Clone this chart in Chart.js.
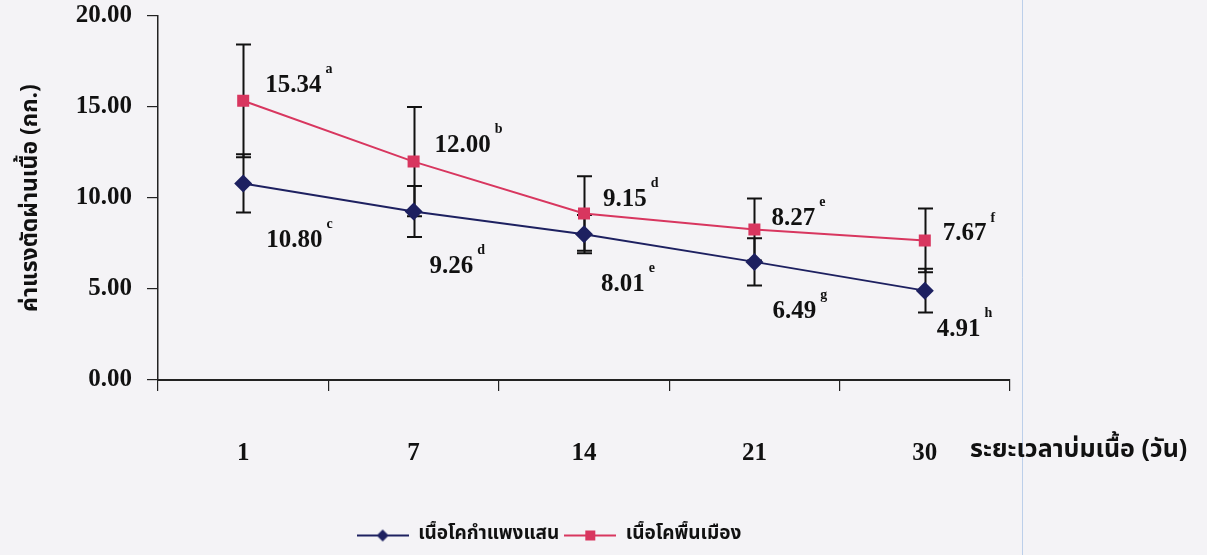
<!DOCTYPE html>
<html>
<head>
<meta charset="utf-8">
<script src="https://cdn.jsdelivr.net/npm/chart.js@4/dist/chart.umd.min.js"></script>
<style>
  html, body { margin: 0; padding: 0; background: #f4f3f6; }
  #wrap { width: 1207px; height: 555px; position: relative; }
</style>
</head>
<body>
<div id="wrap"><canvas id="c" width="1207" height="555"></canvas></div>
<script>
// Ageing days
const days = ['1', '7', '14', '21', '30'];

// Shear force (kg), mean values
const kamphaengsaen = [10.80, 9.26, 8.01, 6.49, 4.91];
const native = [15.34, 12.00, 9.15, 8.27, 7.67];

// Standard deviations for the error bars
const kamphaengsaenSD = [1.6, 1.4, 1.05, 1.3, 1.2];
const nativeSD = [3.1, 3.0, 2.05, 1.7, 1.75];

// Significance letters
const kamphaengsaenLetters = ['c', 'd', 'e', 'g', 'h'];
const nativeLetters = ['a', 'b', 'd', 'e', 'f'];

// Y axis tick values
const yTicks = [0, 5, 10, 15, 20];

const NAVY = '#1d2060';
const RED = '#d8365f';
const NUM_FONT = '"Liberation Serif", "Times New Roman", serif';
const THAI_FONT = '"Noto Sans Thai", "Noto Serif Thai", "Loma", "Garuda", "Norasi", "Noto Sans", sans-serif';

// legend swatch: short line with the marker in the middle
function swatch(color, style) {
  const cv = document.createElement('canvas');
  cv.width = 52; cv.height = 18;
  const g = cv.getContext('2d');
  g.strokeStyle = color; g.lineWidth = 2;
  g.beginPath(); g.moveTo(0, 9); g.lineTo(52, 9); g.stroke();
  g.fillStyle = color;
  g.beginPath();
  if (style === 'diamond') {
    g.moveTo(26, 3); g.lineTo(32, 9); g.lineTo(26, 15); g.lineTo(20, 9); g.closePath();
  } else {
    g.rect(21, 4, 10, 10);
  }
  g.fill();
  return cv;
}

const background = {
  id: 'background',
  beforeDraw(chart) {
    const ctx = chart.ctx;
    ctx.save();
    ctx.fillStyle = '#f4f3f6';
    ctx.fillRect(0, 0, chart.width, chart.height);
    // faint fold line of the printed page
    ctx.strokeStyle = 'rgba(170,195,230,0.75)';
    ctx.lineWidth = 1;
    ctx.beginPath(); ctx.moveTo(1022.5, 0); ctx.lineTo(1022.5, chart.height); ctx.stroke();
    ctx.restore();
  }
};

// vertical error bars with caps, drawn under the markers
const errorBars = {
  id: 'errorBars',
  beforeDatasetsDraw(chart, args, opts) {
    const ctx = chart.ctx;
    const ys = chart.scales.y;
    ctx.save();
    ctx.strokeStyle = '#111';
    ctx.lineWidth = 2;
    chart.data.datasets.forEach((ds, di) => {
      const meta = chart.getDatasetMeta(di);
      const sd = opts.sd[di];
      meta.data.forEach((pt, i) => {
        const v = ds.data[i];
        const top = ys.getPixelForValue(v + sd[i]);
        const bot = ys.getPixelForValue(v - sd[i]);
        const x = Math.round(pt.x) + 0.5;
        ctx.beginPath();
        ctx.moveTo(x, top); ctx.lineTo(x, bot);
        ctx.moveTo(x - 7.5, top); ctx.lineTo(x + 7.5, top);
        ctx.moveTo(x - 7.5, bot); ctx.lineTo(x + 7.5, bot);
        ctx.stroke();
      });
    });
    ctx.restore();
  }
};

// value labels with a raised significance letter
const valueLabels = {
  id: 'valueLabels',
  afterDatasetsDraw(chart, args, opts) {
    const ctx = chart.ctx;
    ctx.save();
    ctx.fillStyle = '#111';
    ctx.textBaseline = 'middle';
    ctx.textAlign = 'left';
    chart.data.datasets.forEach((ds, di) => {
      const meta = chart.getDatasetMeta(di);
      const letters = opts.letters[di];
      const nudge = opts.nudge[di];
      meta.data.forEach((pt, i) => {
        const txt = ds.data[i].toFixed(2);
        const x = pt.x + nudge[i][0];
        const y = pt.y + nudge[i][1];
        ctx.font = 'bold 25px ' + NUM_FONT;
        ctx.fillText(txt, x, y);
        const w = ctx.measureText(txt).width;
        ctx.font = 'bold 14px ' + NUM_FONT;
        ctx.fillText(letters[i], x + w + 4, y - 16);
      });
    });
    ctx.restore();
  }
};

// x axis title placed on the tick-label row, right of the last tick
const xTitle = {
  id: 'xTitle',
  afterDraw(chart, args, opts) {
    const ctx = chart.ctx;
    ctx.save();
    ctx.fillStyle = '#111';
    ctx.font = 'bold 25px ' + THAI_FONT;
    ctx.textAlign = 'left';
    ctx.textBaseline = 'middle';
    ctx.fillText(opts.text, chart.chartArea.right - 40, opts.y);
    ctx.restore();
  }
};

new Chart(document.getElementById('c'), {
  type: 'line',
  data: {
    labels: days,
    datasets: [
      {
        label: 'เนื้อโคกำแพงแสน',
        data: kamphaengsaen,
        borderColor: NAVY,
        backgroundColor: NAVY,
        borderWidth: 2,
        pointStyle: 'rectRot',
        pointRadius: 9,
        pointBorderWidth: 0,
        tension: 0
      },
      {
        label: 'เนื้อโคพื้นเมือง',
        data: native,
        borderColor: RED,
        backgroundColor: RED,
        borderWidth: 2,
        pointStyle: 'rect',
        pointRadius: 8.5,
        pointBorderWidth: 0,
        tension: 0
      }
    ]
  },
  options: {
    responsive: false,
    animation: false,
    devicePixelRatio: 1,
    layout: { padding: { left: 0, top: 16, right: 109, bottom: 0 } },
    scales: {
      x: {
        type: 'category',
        offset: true,
        grid: {
          display: true,
          offset: true,
          drawOnChartArea: false,
          drawTicks: true,
          tickLength: 11,
          color: '#222',
          lineWidth: 1.2
        },
        border: { display: true, color: '#222', width: 2 },
        ticks: {
          color: '#111',
          padding: 48,
          font: { family: NUM_FONT, size: 25, weight: 'bold' }
        },
        afterFit(scale) {
          scale.height = 141;
          scale.paddingLeft = 0;
          scale.paddingRight = 0;
        }
      },
      y: {
        min: 0,
        max: 20,
        afterBuildTicks(scale) { scale.ticks = yTicks.map(v => ({ value: v })); },
        grid: {
          display: true,
          drawOnChartArea: false,
          drawTicks: true,
          tickLength: 11,
          color: '#222',
          lineWidth: 1.2
        },
        border: { display: true, color: '#222', width: 1.5 },
        ticks: {
          color: '#111',
          padding: 15,
          font: { family: NUM_FONT, size: 25, weight: 'bold' },
          callback: v => Number(v).toFixed(2)
        },
        title: {
          display: true,
          text: 'ค่าแรงตัดผ่านเนื้อ (กก.)',
          color: '#111',
          padding: { top: 19, bottom: 0 },
          font: { family: THAI_FONT, size: 23, weight: 'bold' }
        },
        afterFit(scale) {
          scale.width = 158;
          scale.paddingTop = 0;
          scale.paddingBottom = 0;
        }
      },
      // empty right-hand strip that leaves room for the x axis title
      gutter: {
        type: 'linear',
        position: 'right',
        display: true,
        grid: { display: false, drawTicks: false },
        border: { display: false },
        ticks: { display: false },
        afterFit(scale) {
          scale.width = 88;
          scale.paddingTop = 0;
          scale.paddingBottom = 0;
        }
      }
    },
    plugins: {
      legend: {
        position: 'bottom',
        labels: {
          color: '#111',
          usePointStyle: true,
          pointStyleWidth: 52,
          padding: 5,
          font: { family: THAI_FONT, size: 19, weight: 'bold' },
          generateLabels(chart) {
            return chart.data.datasets.map((ds, i) => ({
              text: ds.label,
              pointStyle: swatch(ds.borderColor, i === 0 ? 'diamond' : 'square'),
              fillStyle: ds.borderColor,
              strokeStyle: ds.borderColor,
              lineWidth: 0,
              fontColor: '#111',
              datasetIndex: i,
              hidden: false
            }));
          }
        }
      },
      tooltip: { enabled: false },
      errorBars: { sd: [kamphaengsaenSD, nativeSD] },
      valueLabels: {
        letters: [kamphaengsaenLetters, nativeLetters],
        nudge: [
          [[23, 57], [16, 55], [17, 50], [18, 50], [12, 39]],
          [[22, -15], [21, -16], [19, -14], [17, -11], [18, -6.5]]
        ]
      },
      xTitle: { text: 'ระยะเวลาบ่มเนื้อ (วัน)', y: 452 }
    }
  },
  plugins: [background, errorBars, valueLabels, xTitle]
});
</script>
</body>
</html>
